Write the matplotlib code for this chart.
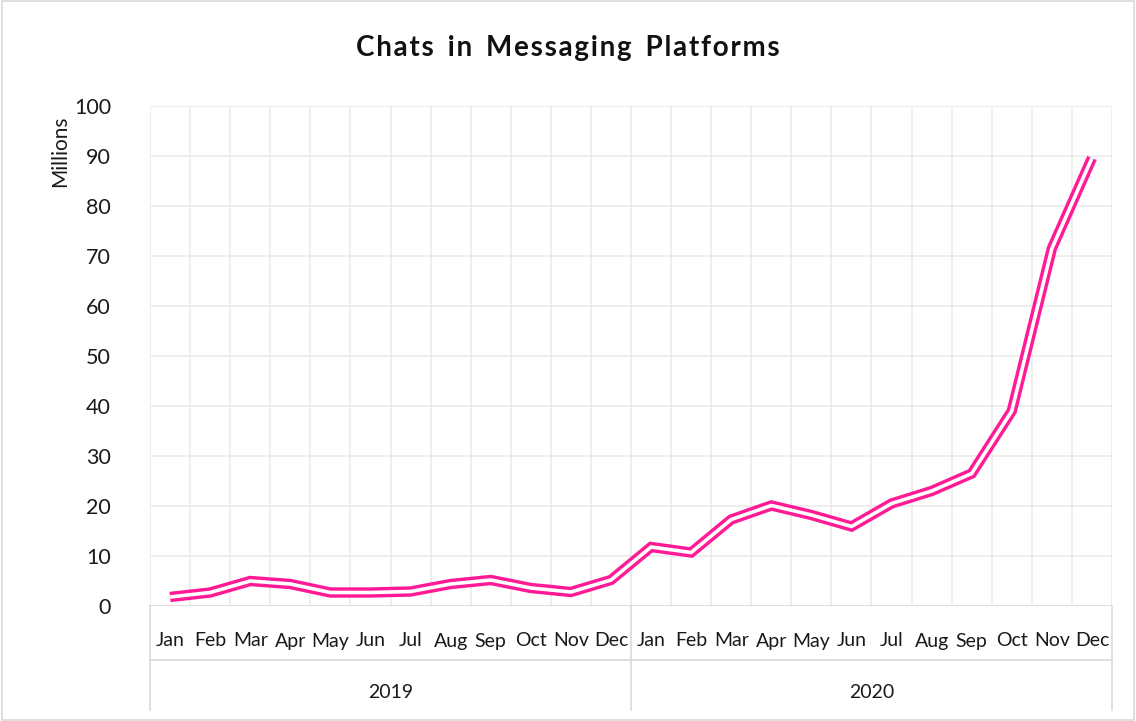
import matplotlib
matplotlib.use("Agg")
import matplotlib.pyplot as plt
from matplotlib.patches import Rectangle
import matplotlib.transforms as mtransforms

months = ["Jan", "Feb", "Mar", "Apr", "May", "Jun", "Jul", "Aug", "Sep", "Oct", "Nov", "Dec"]
years = ["2019", "2020"]
chats_2019 = [1.8, 2.7, 5.0, 4.4, 2.7, 2.7, 2.9, 4.4, 5.2, 3.6, 2.8, 5.2]
chats_2020 = [11.8, 10.7, 17.3, 20.1, 18.2, 15.9, 20.5, 23.0, 26.5, 39.0, 71.5, 89.6]
yticks = [0, 10, 20, 30, 40, 50, 60, 70, 80, 90, 100]

values = chats_2019 + chats_2020
labels = months * len(years)
n = len(values)
x = list(range(n))

FONT = ["Lato", "DejaVu Sans"]
plt.rcParams["font.family"] = FONT

W, H = 1136, 721
fig = plt.figure(figsize=(W / 100, H / 100), dpi=100)
fig.patches.append(Rectangle((0.0015, 0.002), 0.997, 0.996, transform=fig.transFigure,
                             fill=False, edgecolor="#d9d9d9", lw=1.2))

left, right, top, bottom = 150, 1112, 106, 606
ax = fig.add_axes([left / W, 1 - bottom / H, (right - left) / W, (bottom - top) / H])
ax.set_xlim(-0.5, n - 0.5)
ax.set_ylim(0, 100)
for s in ax.spines.values():
    s.set_visible(False)

grid_c = "#e9e9e9"
for yv in yticks[1:]:
    ax.axhline(yv, color=grid_c, lw=1.1, zorder=0)
for b in range(n + 1):
    ax.axvline(b - 0.5, color=grid_c, lw=1.1, zorder=0)
ax.axhline(0, color="#d9d9d9", lw=1.2, zorder=1)

pink = "#FF1A96"
ax.plot(x, values, color=pink, lw=7.5, solid_joinstyle="miter", solid_capstyle="butt", zorder=3)
ax.plot(x, values, color="white", lw=2.6, solid_joinstyle="miter", solid_capstyle="butt", zorder=4)

txt_c = "#1a1a1a"
ax.set_yticks(yticks)
ax.set_yticklabels([str(v) for v in yticks], fontsize=15.5, color=txt_c)
ax.tick_params(axis="y", length=0, pad=28)
ax.set_xticks([])

trans = mtransforms.blended_transform_factory(ax.transData, ax.transAxes)
px = 1.0 / (bottom - top)
for i, lab in enumerate(labels):
    ax.text(i, -35 * px, lab, transform=trans, ha="center", va="center",
            fontsize=14, color=txt_c)
for k, yr in enumerate(years):
    ax.text(k * 12 + 5.5, -86 * px, yr, transform=trans, ha="center", va="center",
            fontsize=14, color=txt_c)
line_c = "#d9d9d9"
for b in [-0.5, 11.5, 23.5]:
    ax.plot([b, b], [0, -104 * px], transform=trans, color=line_c, lw=1.2, clip_on=False)
ax.plot([-0.5, 23.5], [-54 * px, -54 * px], transform=trans, color=line_c, lw=1.2, clip_on=False)

ax.set_ylabel("Millions", fontsize=15, color=txt_c)
ax.yaxis.set_label_coords(-0.083, 0.91)

fig.text(0.5, 1 - 48 / H, "C h a t s   i n   M e s s a g i n g   P l a t f o r m s".replace("   ", "\u2002").replace(" ", "\u200a"),
         ha="center", va="center", fontsize=20, fontweight="bold", color="#111111")

fig.savefig("out.png", dpi=100, facecolor="white")
